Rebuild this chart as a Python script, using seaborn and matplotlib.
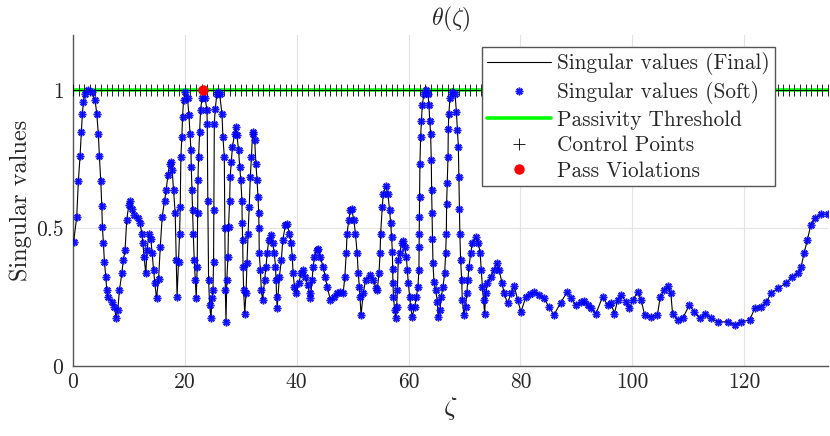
import numpy as np
import pandas as pd
import matplotlib
matplotlib.use('Agg')
import matplotlib.pyplot as plt
import seaborn as sns

# singular values (zeta, sigma)
zeta = [0.1, 0.66, 0.95, 1.25, 1.5, 1.67, 1.85, 2.15, 2.75, 3.35, 3.94, 4.24, 4.53, 4.71, 4.96, 5.14, 5.25, 5.43,
        5.61, 5.85, 6.03, 6.2, 6.93, 7.4, 7.7, 8.0, 8.3, 8.72, 9.0, 9.3, 9.6, 9.97, 10.2, 10.57, 10.98, 11.58, 12.0,
        12.3, 12.48, 12.7, 13.0, 13.25, 13.55, 13.9, 14.15, 14.4, 14.63, 14.93, 15.3, 15.6, 15.94, 16.36, 16.66,
        16.96, 17.25, 17.5, 17.73, 17.97, 18.27, 18.45, 18.6, 18.86, 19.05, 19.17, 19.28, 19.46, 19.58, 19.76,
        20.06, 20.47, 20.72, 20.9, 21.08, 21.14, 21.26, 21.37, 21.5, 21.67, 21.85, 22.03, 22.2, 22.27, 22.33,
        22.45, 22.63, 22.8, 23.05, 23.3, 23.64, 23.94, 24.0, 24.1, 24.24, 24.42, 24.66, 24.84, 25.02, 25.13,
        25.18, 25.26, 25.43, 25.73, 25.9, 26.2, 26.63, 26.8, 27.05, 27.15, 27.23, 27.35, 27.5, 27.7, 27.8, 28.0,
        28.1, 28.3, 28.5, 28.9, 29.1, 29.3, 29.6, 29.8, 30.0, 30.2, 30.25, 30.33, 30.4, 30.5, 30.7, 30.93, 31.1,
        31.3, 31.5, 31.7, 31.9, 32.1, 32.15, 32.47, 32.7, 32.9, 33.07, 33.2, 33.25, 33.3, 33.5, 33.67, 33.9,
        34.27, 34.5, 34.7, 35.0, 35.4, 35.7, 36.0, 36.2, 36.3, 36.4, 36.5, 36.9, 37.25, 37.5, 37.97, 38.27, 38.7,
        39.0, 39.2, 39.35, 39.6, 39.94, 40.35, 40.8, 41.1, 41.55, 41.97, 42.3, 42.45, 42.75, 42.93, 43.17, 43.6,
        43.8, 44.2, 44.7, 45.1, 45.45, 46.0, 46.6, 47.2, 47.8, 48.3, 48.6, 48.85, 49.0, 49.3, 49.6, 49.8, 50.2,
        50.5, 50.8, 51.0, 51.2, 51.3, 51.5, 51.9, 52.3, 53.07, 53.7, 54.2, 54.4, 54.7, 54.9, 55.0, 55.3, 55.47,
        55.94, 56.3, 56.6, 56.8, 56.96, 57.1, 57.15, 57.2, 57.3, 57.5, 57.7, 57.86, 58.0, 58.15, 58.4, 58.75,
        59.05, 59.3, 59.6, 59.77, 59.95, 60.2, 60.36, 60.66, 61.1, 61.4, 61.67, 61.85, 61.87, 61.9, 61.93, 61.96,
        62.03, 62.15, 62.3, 62.45, 62.75, 63.05, 63.47, 63.65, 63.77, 63.94, 64.06, 64.12, 64.2, 64.27, 64.36,
        64.54, 64.84, 65.14, 65.3, 65.6, 65.85, 66.15, 66.45, 66.63, 66.75, 66.8, 66.9, 67.05, 67.1, 67.2, 67.4,
        67.8, 68.3, 68.55, 68.73, 68.9, 69.0, 69.1, 69.17, 69.3, 69.5, 69.6, 69.9, 70.2, 70.4, 70.6, 70.8, 71.1,
        71.4, 72.0, 72.5, 72.8, 73.0, 73.2, 73.4, 73.6, 73.8, 74.1, 74.7, 75.3, 75.8, 76.2, 76.7, 77.1, 77.7,
        78.3, 78.9, 79.5, 80.1, 80.96, 81.7, 82.45, 83.3, 84.2, 85.1, 86.0, 87.2, 88.4, 89.1, 89.9, 90.8, 91.4,
        92.0, 92.6, 93.5, 94.7, 95.6, 96.2, 96.8, 97.4, 98.0, 98.9, 99.5, 100.1, 101.0, 101.6, 102.2, 103.3,
        104.5, 105.0, 105.7, 106.4, 106.9, 107.2, 108.1, 109.0, 110.2, 111.1, 112.1, 113.0, 114.1, 115.3, 117.1,
        118.3, 119.5, 121.0, 121.9, 123.0, 124.0, 124.8, 126.0, 127.5, 128.5, 129.6, 130.2, 130.7, 131.3, 131.9,
        132.6, 133.8, 135.0]
sigma = [0.45, 0.54, 0.67, 0.76, 0.85, 0.915, 0.958, 0.988, 1.0, 0.994, 0.964, 0.915, 0.84, 0.76, 0.67, 0.58, 0.505,
         0.445, 0.378, 0.324, 0.275, 0.25, 0.233, 0.215, 0.173, 0.203, 0.275, 0.336, 0.384, 0.42, 0.53, 0.583, 0.6,
         0.571, 0.547, 0.535, 0.517, 0.48, 0.445, 0.396, 0.336, 0.42, 0.478, 0.462, 0.408, 0.348, 0.30, 0.245,
         0.317, 0.432, 0.54, 0.60, 0.638, 0.692, 0.734, 0.74, 0.71, 0.638, 0.554, 0.384, 0.25, 0.378, 0.48, 0.577,
         0.758, 0.83, 0.903, 0.964, 0.994, 0.97, 0.91, 0.843, 0.783, 0.722, 0.638, 0.565, 0.48, 0.384, 0.312,
         0.245, 0.36, 0.553, 0.674, 0.758, 0.849, 0.928, 0.97, 1.0, 0.97, 0.928, 0.879, 0.6, 0.312, 0.22, 0.173,
         0.245, 0.275, 0.378, 0.565, 0.879, 0.933, 0.988, 0.994, 0.988, 0.915, 0.83, 0.758, 0.5, 0.275, 0.16,
         0.312, 0.396, 0.505, 0.60, 0.686, 0.74, 0.795, 0.843, 0.867, 0.837, 0.783, 0.722, 0.674, 0.60, 0.52,
         0.456, 0.36, 0.275, 0.19, 0.263, 0.372, 0.48, 0.577, 0.686, 0.758, 0.843, 0.85, 0.82, 0.734, 0.674,
         0.613, 0.553, 0.5, 0.408, 0.348, 0.275, 0.239, 0.312, 0.36, 0.408, 0.456, 0.475, 0.445, 0.408, 0.36,
         0.312, 0.251, 0.209, 0.324, 0.384, 0.456, 0.51, 0.514, 0.48, 0.445, 0.396, 0.336, 0.287, 0.263, 0.30,
         0.336, 0.348, 0.324, 0.293, 0.263, 0.245, 0.312, 0.36, 0.396, 0.42, 0.426, 0.396, 0.36, 0.324, 0.287,
         0.241, 0.251, 0.263, 0.269, 0.263, 0.324, 0.408, 0.48, 0.53, 0.565, 0.571, 0.53, 0.48, 0.408, 0.336,
         0.287, 0.251, 0.185, 0.263, 0.312, 0.33, 0.312, 0.281, 0.275, 0.336, 0.408, 0.48, 0.577, 0.625, 0.652,
         0.625, 0.565, 0.517, 0.468, 0.414, 0.35, 0.30, 0.251, 0.203, 0.173, 0.215, 0.275, 0.384, 0.408, 0.445,
         0.454, 0.432, 0.396, 0.348, 0.30, 0.251, 0.215, 0.179, 0.215, 0.251, 0.287, 0.348, 0.43, 0.48, 0.54,
         0.613, 0.734, 0.83, 0.89, 0.946, 0.988, 1.0, 0.988, 0.946, 0.89, 0.843, 0.746, 0.638, 0.553, 0.46, 0.372,
         0.305, 0.275, 0.233, 0.176, 0.203, 0.251, 0.287, 0.336, 0.408, 0.48, 0.589, 0.662, 0.758, 0.861, 0.915,
         0.97, 0.994, 0.988, 0.921, 0.855, 0.795, 0.686, 0.571, 0.48, 0.384, 0.312, 0.239, 0.185, 0.215, 0.263,
         0.312, 0.36, 0.408, 0.445, 0.468, 0.445, 0.408, 0.348, 0.287, 0.239, 0.19, 0.263, 0.30, 0.324, 0.348,
         0.372, 0.348, 0.30, 0.263, 0.227, 0.263, 0.29, 0.24, 0.195, 0.251, 0.262, 0.269, 0.258, 0.245, 0.215,
         0.185, 0.23, 0.269, 0.245, 0.22, 0.233, 0.235, 0.22, 0.209, 0.19, 0.251, 0.22, 0.227, 0.19, 0.239, 0.257,
         0.233, 0.209, 0.239, 0.269, 0.239, 0.185, 0.179, 0.185, 0.251, 0.275, 0.29, 0.263, 0.19, 0.167, 0.173,
         0.22, 0.197, 0.173, 0.19, 0.173, 0.16, 0.16, 0.149, 0.16, 0.167, 0.209, 0.215, 0.233, 0.263, 0.281, 0.30,
         0.324, 0.336, 0.36, 0.408, 0.456, 0.51, 0.535, 0.55, 0.55]

# control points on the threshold, one per unit
control_x = list(range(0, 136))
threshold = 1.0
threshold_x = [0, 135]

# passivity violation
viol_x = [23.3]
viol_y = [1.0]

df = pd.DataFrame({'zeta': zeta, 'sigma': sigma})
ctrl = pd.DataFrame({'zeta': control_x, 'sigma': [threshold] * len(control_x)})
thr = pd.DataFrame({'zeta': threshold_x, 'sigma': [threshold] * len(threshold_x)})
viol = pd.DataFrame({'zeta': viol_x, 'sigma': viol_y})

sns.set_style('white')
plt.rcParams['font.family'] = ['cmr10', 'DejaVu Serif']
plt.rcParams['mathtext.fontset'] = 'cm'
plt.rcParams['axes.formatter.use_mathtext'] = True

fig = plt.figure(figsize=(8.3, 4.36), dpi=100)
ax = fig.add_axes([0.088, 0.1606, 0.9096, 0.759])

sns.lineplot(data=thr, x='zeta', y='sigma', ax=ax, color=(0, 1, 0), linewidth=2.6,
             label='Passivity Threshold', zorder=2)
ax.plot(ctrl['zeta'], ctrl['sigma'], linestyle='none', marker='+', markersize=9,
        markeredgewidth=0.6, color='black', label='Control Points', zorder=3)
sns.lineplot(data=df, x='zeta', y='sigma', ax=ax, sort=False, estimator=None,
             color='black', linewidth=0.8, label='Singular values (Final)', zorder=4)
ax.plot(df['zeta'], df['sigma'], linestyle='none', marker=(8, 2, 0), markersize=5.5,
        markeredgewidth=1.1, color='blue', alpha=0.9, label='Singular values (Soft)', zorder=5)
ax.plot(viol['zeta'], viol['sigma'], linestyle='none', marker='o', markersize=6.5,
        color='red', label='Pass Violations', zorder=6)

ax.set_xlim(0, 135)
ax.set_ylim(0, 1.2)
ax.set_xticks([0, 20, 40, 60, 80, 100, 120])
ax.set_xticklabels(['0', '20', '40', '60', '80', '100', '120'])
ax.set_yticks([0, 0.5, 1])
ax.set_yticklabels(['0', '0.5', '1'])
ax.grid(True, color='#e3e3e3', linewidth=0.8)
ax.set_axisbelow(True)
for side in ['top', 'right']:
    ax.spines[side].set_visible(False)
for side in ['left', 'bottom']:
    ax.spines[side].set_color('#555555')
    ax.spines[side].set_linewidth(1.0)
ax.tick_params(axis='x', direction='in', length=5, labelsize=15.5, colors='#262626', pad=5)
ax.tick_params(axis='y', direction='out', length=5, labelsize=15.5, colors='#262626', pad=2)
ax.set_xlabel(r'$\zeta$', fontsize=19, labelpad=2)
ax.set_ylabel('Singular values', fontsize=17.5, labelpad=3)
ax.set_title(r'$\theta(\zeta)$', fontsize=17, pad=7)

h, l = ax.get_legend_handles_labels()
order = ['Singular values (Final)', 'Singular values (Soft)', 'Passivity Threshold', 'Control Points', 'Pass Violations']
hd = dict(zip(l, h))
leg = ax.legend([hd[k] for k in order], order, loc='upper right', bbox_to_anchor=(0.93, 0.964),
                fontsize=15.3, frameon=True, fancybox=False, framealpha=1, edgecolor='#555555',
                handlelength=3.0, labelspacing=0.28, borderaxespad=0, borderpad=0.25, handletextpad=0.3)
leg.get_frame().set_linewidth(1.0)

fig.savefig('out.png', dpi=100)
